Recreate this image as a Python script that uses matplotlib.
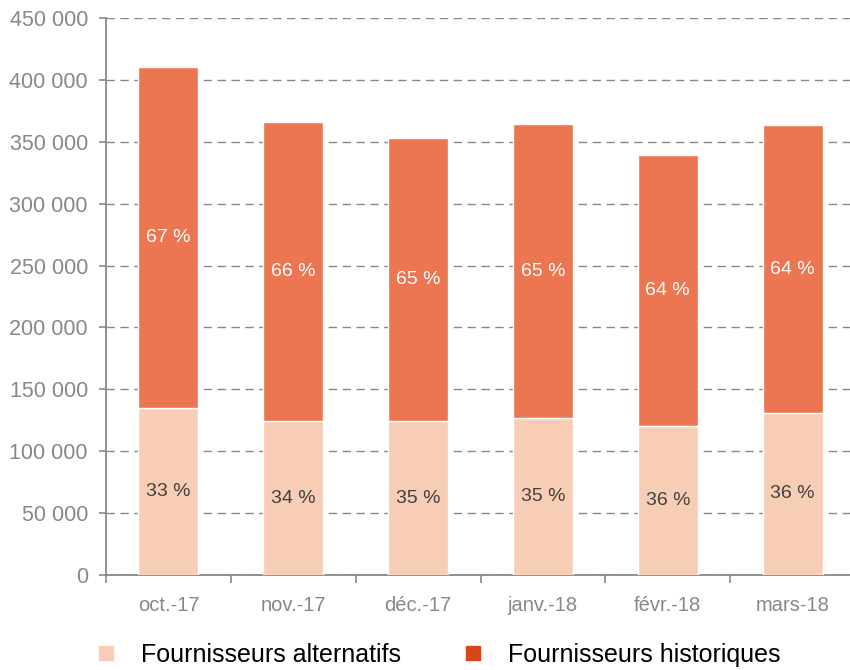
import matplotlib
matplotlib.use('Agg')
import matplotlib.pyplot as plt
from matplotlib.lines import Line2D
from matplotlib.ticker import FuncFormatter
import numpy as np

plt.rcParams['font.family'] = ['Liberation Sans', 'DejaVu Sans']

mois = ['oct.-17', 'nov.-17', 'déc.-17', 'janv.-18', 'févr.-18', 'mars-18']
alternatifs = [134900, 124400, 124400, 126800, 120400, 130900]
historiques = [275500, 241600, 228600, 237600, 218900, 232600]
pct_alt = ['33 %', '34 %', '35 %', '35 %', '36 %', '36 %']
pct_hist = ['67 %', '66 %', '65 %', '65 %', '64 %', '64 %']

c_alt = '#F8CDB6'
c_hist = '#EC7651'
c_hist_leg = '#D9441A'
grey = '#888888'

fig = plt.figure(figsize=(8.5, 6.7), dpi=100)
ax = fig.add_axes([106 / 850, 95 / 670, 749 / 850, 557 / 670])

x = np.arange(len(mois))
w = 0.48
ax.bar(x, alternatifs, w, color=c_alt, edgecolor='white', linewidth=1, zorder=3)
ax.bar(x, historiques, w, bottom=alternatifs, color=c_hist, edgecolor='white',
       linewidth=1, zorder=3)

# pourcentages au milieu de chaque segment
for i in range(len(mois)):
    ax.text(x[i], alternatifs[i] / 2, pct_alt[i], ha='center', va='center',
            fontsize=14, color='#404040', zorder=4)
    ax.text(x[i], alternatifs[i] + historiques[i] / 2, pct_hist[i], ha='center',
            va='center', fontsize=14, color='white', zorder=4)

ax.set_xlim(-0.5, 5.5)
ax.set_ylim(0, 450000)
ax.set_yticks(np.arange(0, 450001, 50000))
ax.yaxis.set_major_formatter(FuncFormatter(lambda v, p: f'{int(v):,}'.replace(',', ' ')))
ax.yaxis.grid(True, linestyle=(0, (6, 4)), color=grey, linewidth=1, zorder=0)

ax.set_xticks(x)
ax.set_xticklabels(mois)
ax.set_xticks(np.arange(-0.5, 5.6, 1), minor=True)
ax.tick_params(axis='x', which='major', length=0, pad=15, labelsize=14.5, labelcolor=grey)
ax.tick_params(axis='x', which='minor', length=6, width=1.2, color=grey, direction='out')
ax.tick_params(axis='y', length=5, width=1.2, color=grey, pad=8, labelsize=15.5,
               labelcolor=grey)

for s in ['top', 'right']:
    ax.spines[s].set_visible(False)
for s in ['left', 'bottom']:
    ax.spines[s].set_color(grey)
    ax.spines[s].set_linewidth(1.3)

handles = [Line2D([], [], marker='s', linestyle='none', markersize=10, color=c_alt),
           Line2D([], [], marker='s', linestyle='none', markersize=10, color=c_hist_leg)]
fig.legend(handles, ['Fournisseurs alternatifs', 'Fournisseurs historiques'],
           loc='center', bbox_to_anchor=(437 / 850, 1 - 655 / 670), ncol=2,
           frameon=False, fontsize=18, handlelength=1, handletextpad=0.9,
           columnspacing=2.4)

fig.savefig('out.png', dpi=100)
